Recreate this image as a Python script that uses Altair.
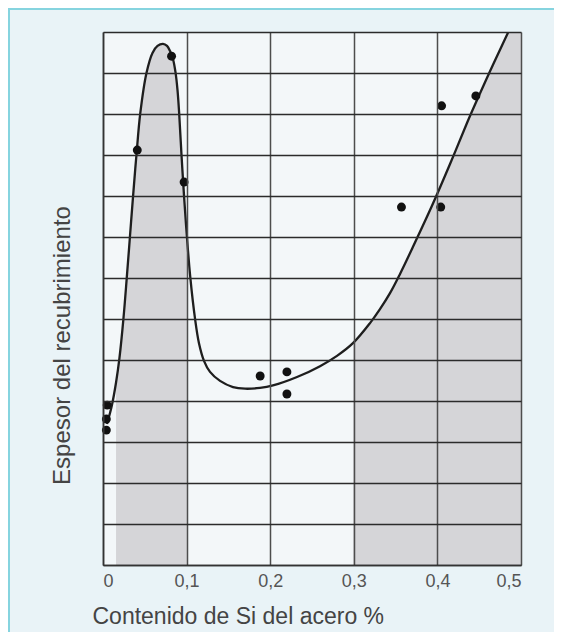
import altair as alt
import pandas as pd

# Curve (x = Si content %, y = coating thickness, grid units)
curve_x = [0.0048, 0.0108, 0.0156, 0.0197, 0.0245, 0.0285, 0.0322, 0.0359, 0.04, 0.0446,
           0.052, 0.0592, 0.0652, 0.0718, 0.0766, 0.0801, 0.0837, 0.0867, 0.0891, 0.0911,
           0.0939, 0.097, 0.1004, 0.1044, 0.110, 0.1148, 0.1208, 0.128, 0.140, 0.1555,
           0.1699, 0.1878, 0.2033, 0.2321, 0.2596, 0.2799, 0.299, 0.3194, 0.3313, 0.3433,
           0.3553, 0.3708, 0.3935, 0.4151, 0.4354, 0.4474, 0.4665, 0.4844, 0.5]
curve_y = [3.44, 3.91, 4.45, 5.05, 6.02, 7.02, 8.0, 8.98, 10.0, 11.02,
           12.0, 12.49, 12.66, 12.71, 12.66, 12.54, 12.34, 12.02, 11.59, 11.02,
           10.0, 8.98, 8.0, 7.02, 6.02, 5.41, 4.98, 4.71, 4.49, 4.34,
           4.30, 4.32, 4.38, 4.585, 4.85, 5.10, 5.41, 5.90, 6.24, 6.63,
           7.10, 7.76, 8.76, 9.78, 10.78, 11.34, 12.2, 12.98, 13.66]

# Measured points
point_x = [0.005, 0.004, 0.004, 0.041, 0.082, 0.097, 0.188, 0.22, 0.22, 0.357, 0.404, 0.405, 0.446]
point_y = [3.9, 3.56, 3.29, 10.12, 12.41, 9.34, 4.61, 4.71, 4.17, 8.73, 8.73, 11.2, 11.44]

x_ticks = [0, 0.1, 0.2, 0.3, 0.4, 0.5]
y_grid = list(range(0, 14))
shade_left = (0.0155, 0.1005)
shade_right = (0.2985, 0.5)

curve_df = pd.DataFrame({"x": curve_x, "y": curve_y})
points_df = pd.DataFrame({"x": point_x, "y": point_y})

FONT = "Liberation Sans"
INTERP = "catmull-rom"

xenc = alt.X(
    "x:Q",
    scale=alt.Scale(domain=[0, 0.5], nice=False),
    axis=alt.Axis(
        values=x_ticks, format="~g", labelExpr="replace(datum.label, '.', ',')",
        grid=True, gridColor="#4d4d4d", gridWidth=1.5,
        domainColor="#333333", domainWidth=1.6, ticks=False,
        labelPadding=7, labelFontSize=18, labelColor="#555555", labelFont=FONT,
        title="Contenido de Si del acero %", titleFont=FONT, titleFontSize=23,
        titleFontWeight="normal", titleColor="#444444",
        titleX=-11, titleY=58, titleAlign="left", titleBaseline="alphabetic",
        zindex=1,
    ),
)
yenc = alt.Y(
    "y:Q",
    scale=alt.Scale(domain=[0, 13], nice=False),
    axis=alt.Axis(
        values=y_grid, labels=False, ticks=False,
        grid=True, gridColor="#2b2b2b", gridWidth=1.6,
        domainColor="#333333", domainWidth=1.6,
        title="Espesor del recubrimiento", titleFont=FONT, titleFontSize=24,
        titleFontWeight="normal", titleColor="#444444", titleAngle=270,
        titleX=-41, titleY=313, titleAlign="center", titleBaseline="middle",
        zindex=1,
    ),
)

frame = alt.Chart(alt.Data(values=[{}])).mark_rect(
    fillOpacity=0, stroke="#86d4df", strokeWidth=2
).encode(x=alt.value(-94), x2=alt.value(470), y=alt.value(-23), y2=alt.value(620))

left_area = alt.Chart(curve_df).transform_filter(
    f"datum.x >= {shade_left[0]} && datum.x <= {shade_left[1]}"
).mark_area(color="#d5d5d8", interpolate=INTERP, clip=True).encode(x=xenc, y=yenc)

right_area = alt.Chart(curve_df).transform_filter(
    f"datum.x >= {shade_right[0]} && datum.x <= {shade_right[1]}"
).mark_area(color="#d5d5d8", interpolate=INTERP, clip=True).encode(x=xenc, y=yenc)

line = alt.Chart(curve_df).mark_line(
    color="#1e1e1e", strokeWidth=2.3, interpolate=INTERP, clip=True
).encode(x=xenc, y=yenc)

points = alt.Chart(points_df).mark_circle(color="#111111", size=80, opacity=1).encode(x=xenc, y=yenc)

chart = alt.layer(frame, left_area, right_area, line, points).properties(
    width=418, height=533,
    background="#e9f3f7",
    padding={"left": 95, "top": 24, "right": 33, "bottom": 67},
    autosize=alt.AutoSizeParams(type="none"),
).configure_view(fill="#f3f7f9", strokeWidth=0)

chart.save("out.html", embed_options={"renderer": "svg", "actions": False})
